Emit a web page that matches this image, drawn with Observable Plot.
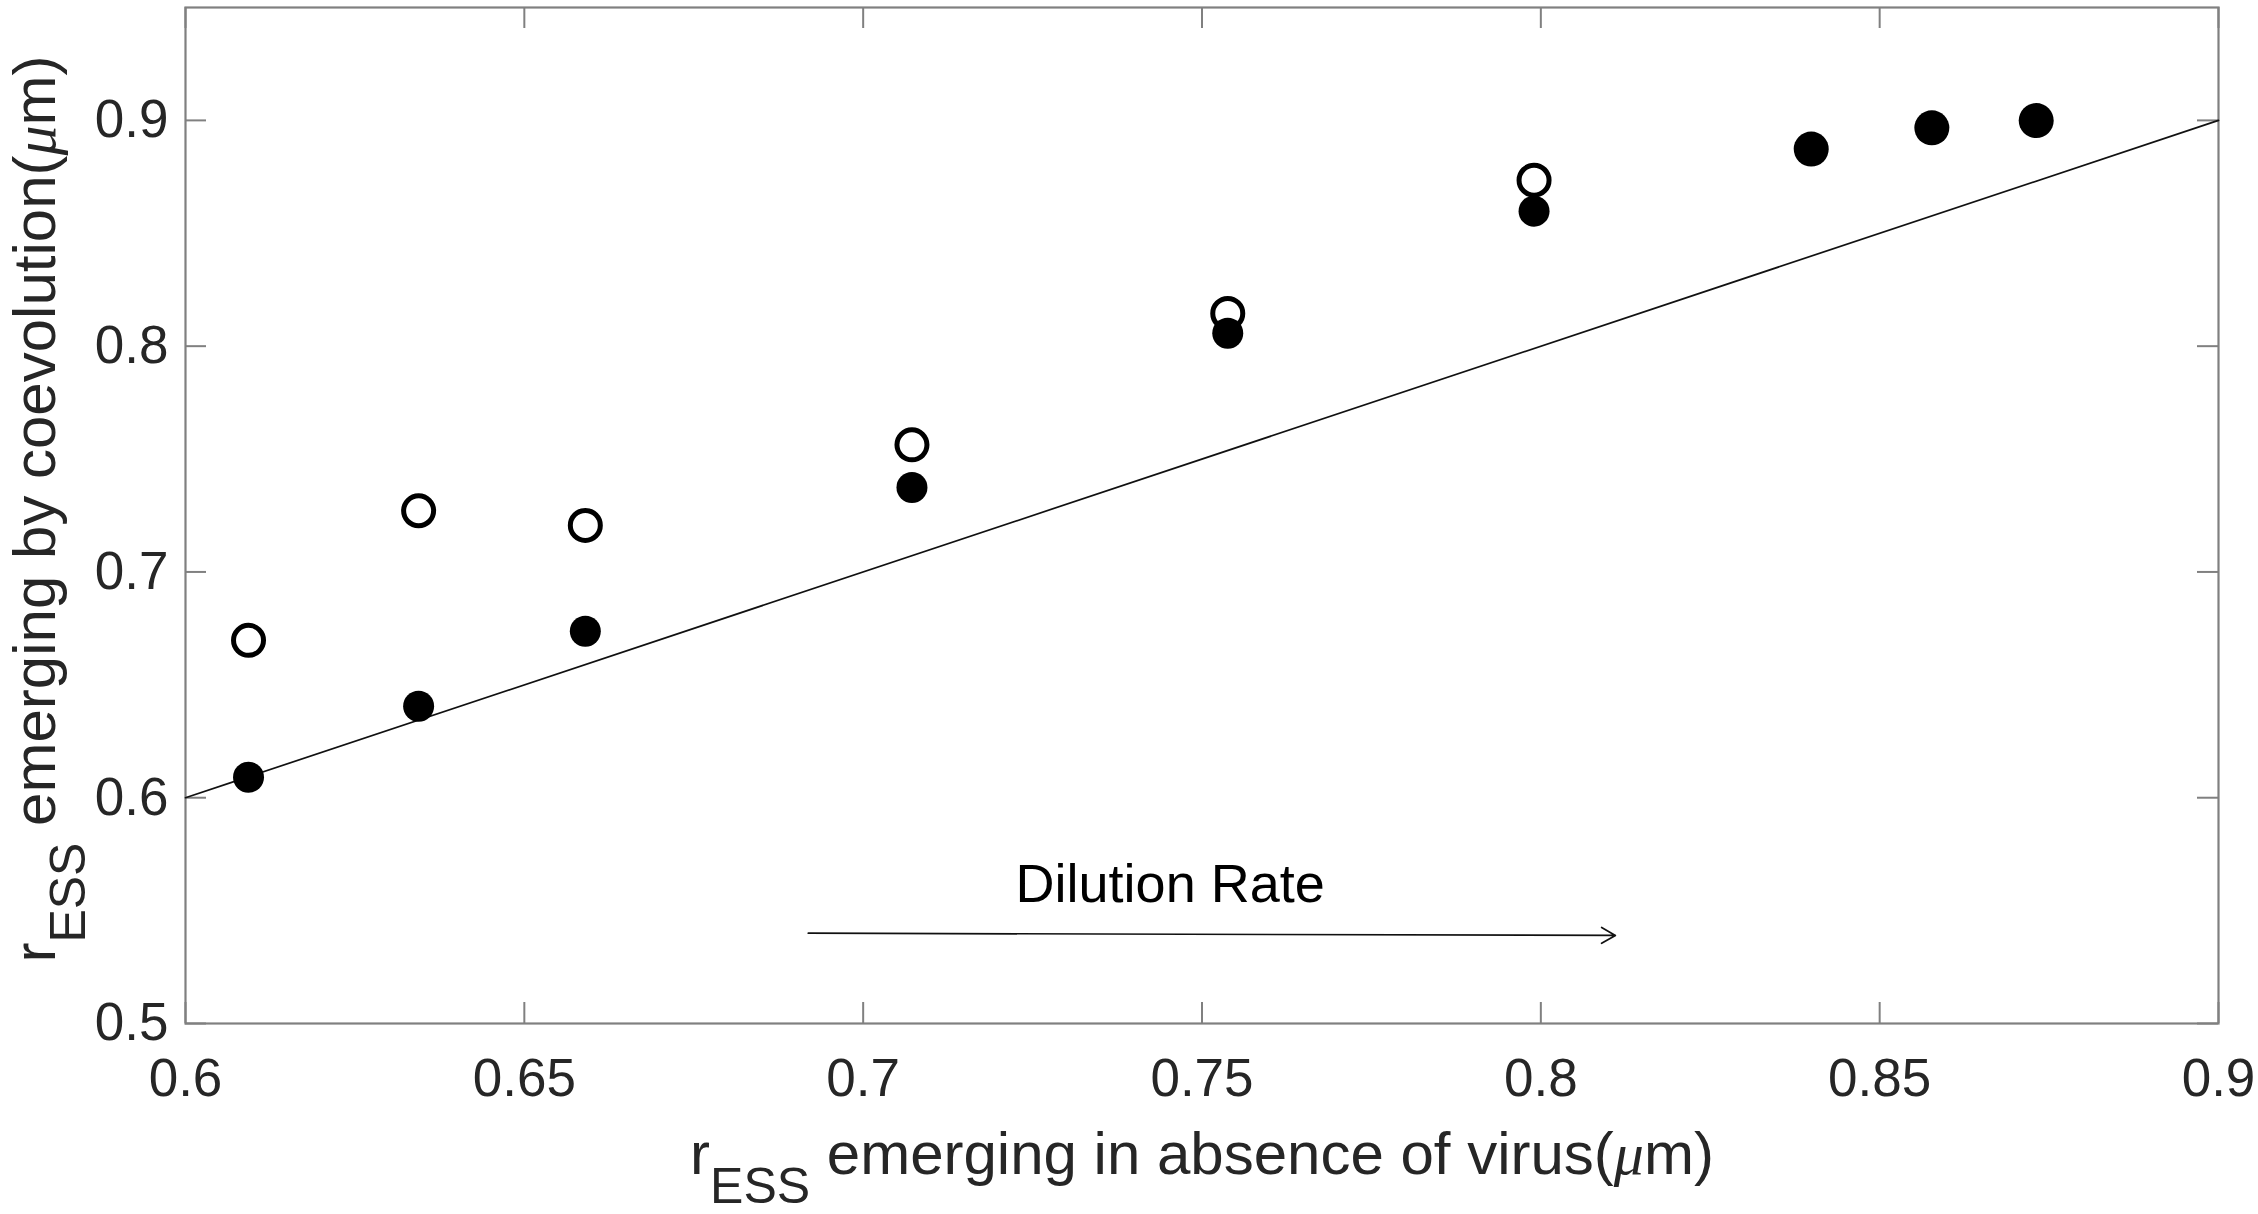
<!DOCTYPE html>
<html>
<head>
<meta charset="utf-8">
<script src="https://cdn.jsdelivr.net/npm/d3@7"></script>
<script src="https://cdn.jsdelivr.net/npm/@observablehq/plot@0.6"></script>
<style>
  html, body { margin: 0; padding: 0; background: #fff; }
  svg { display: block; }
</style>
</head>
<body>
<script>
// ---- data ----
const xValues      = [0.6093, 0.6344, 0.6590, 0.7072, 0.7538, 0.7990, 0.8399, 0.8577, 0.8731];
const coevolvedY   = [0.6091, 0.6405, 0.6737, 0.7374, 0.8057, 0.8598, 0.8873, 0.8967, 0.8999]; // filled
const openX        = [0.6093, 0.6344, 0.6590, 0.7072, 0.7538, 0.7990];
const openY        = [0.6697, 0.7271, 0.7206, 0.7563, 0.8145, 0.8735];                       // open
const refLineX     = [0.6, 0.9];
const refLineY     = [0.6, 0.9];
const arrowX       = [0.6919, 0.8110];
const arrowY       = [0.5400, 0.5390];
const noteText     = "Dilution Rate";
const notePos      = [0.7453, 0.5613];
const xTickValues  = [0.6, 0.65, 0.7, 0.75, 0.8, 0.85, 0.9];
const xTickLabels  = ["0.6", "0.65", "0.7", "0.75", "0.8", "0.85", "0.9"];
const yTickValues  = [0.5, 0.6, 0.7, 0.8, 0.9];
const yTickLabels  = ["0.5", "0.6", "0.7", "0.8", "0.9"];

// ---- tables for the library ----
const filled = xValues.map((x, i) => ({x, y: coevolvedY[i]}));
const open = openX.map((x, i) => ({x, y: openY[i]}));
const refLine = refLineX.map((x, i) => ({x, y: refLineY[i]}));
const arrow = [{x1: arrowX[0], x2: arrowX[1], y1: arrowY[0], y2: arrowY[1]}];
const note = [{x: notePos[0], y: notePos[1], text: noteText}];

const W = 2258, H = 1214;
const mL = 185, mR = 40, mT = 7, mB = 191;
const innerW = W - mL - mR, innerH = H - mT - mB;
const tickLen = 21;
const axisGray = "#808080";
const textColor = "#262626";

const chart = Plot.plot({
  width: W, height: H,
  marginLeft: mL, marginRight: mR, marginTop: mT, marginBottom: mB,
  style: {fontFamily: "'Liberation Sans', Arial, Helvetica, sans-serif", color: textColor, background: "#fff"},
  x: {domain: [0.6, 0.9]},
  y: {domain: [0.5, 0.95]},
  marks: [
    Plot.axisX({ticks: xTickValues, tickFormat: d => xTickLabels[xTickValues.indexOf(d)], tickSize: 0, tickPadding: 35, fontSize: 53, label: null}),
    Plot.axisY({ticks: yTickValues, tickFormat: d => yTickLabels[yTickValues.indexOf(d)], tickSize: 0, tickPadding: 17, fontSize: 53, label: null}),
    // inward ticks on all four sides
    Plot.ruleX(xTickValues, {x: d => d, insetTop: innerH - tickLen, stroke: axisGray, strokeWidth: 2}),
    Plot.ruleX(xTickValues, {x: d => d, insetBottom: innerH - tickLen, stroke: axisGray, strokeWidth: 2}),
    Plot.ruleY(yTickValues, {y: d => d, insetRight: innerW - tickLen, stroke: axisGray, strokeWidth: 2}),
    Plot.ruleY(yTickValues, {y: d => d, insetLeft: innerW - tickLen, stroke: axisGray, strokeWidth: 2}),
    Plot.frame({stroke: axisGray, strokeWidth: 2.2}),
    // y = x reference
    Plot.line(refLine, {x: "x", y: "y", stroke: "#111", strokeWidth: 1.7}),
    // arrow and annotation
    Plot.arrow(arrow, {x1: "x1", y1: "y1", x2: "x2", y2: "y2", stroke: "#111", strokeWidth: 1.7, headLength: 14}),
    Plot.text(note, {x: "x", y: "y", text: "text", fontSize: 54, fill: "#000"}),
    // points
    Plot.dot(filled, {x: "x", y: "y", r: 15.5, fill: "#000", stroke: "none", filter: (d, i) => i < 6}),
    Plot.dot(filled, {x: "x", y: "y", r: 17.5, fill: "#000", stroke: "none", filter: (d, i) => i >= 6}),
    Plot.dot(open, {x: "x", y: "y", r: 15, fill: "none", stroke: "#000", strokeWidth: 5})
  ]
});

document.body.appendChild(chart);

// ---- axis labels with subscripts ----
const svg = d3.select(chart);
function addLabel(g, rest, subShift) {
  const t = g.append("text")
    .attr("text-anchor", "middle")
    .attr("font-size", 60)
    .attr("fill", textColor)
    .attr("font-family", "'Liberation Sans', Arial, Helvetica, sans-serif");
  t.append("tspan").text("r");
  t.append("tspan").attr("font-size", 50).attr("dy", subShift).text("ESS");
  t.append("tspan").attr("dy", -subShift).text(" " + rest + "(");
  t.append("tspan").attr("font-family", "'Liberation Serif', 'DejaVu Serif', serif").attr("font-style", "italic").text("\u03BC");
  t.append("tspan").text("m)");
  return t;
}
addLabel(svg.append("g").attr("transform", "translate(1202,1174)"), "emerging in absence of virus", 29);
addLabel(svg.append("g").attr("transform", "translate(55,509) rotate(-90)"), "emerging by coevolution", 30);
</script>
</body>
</html>
